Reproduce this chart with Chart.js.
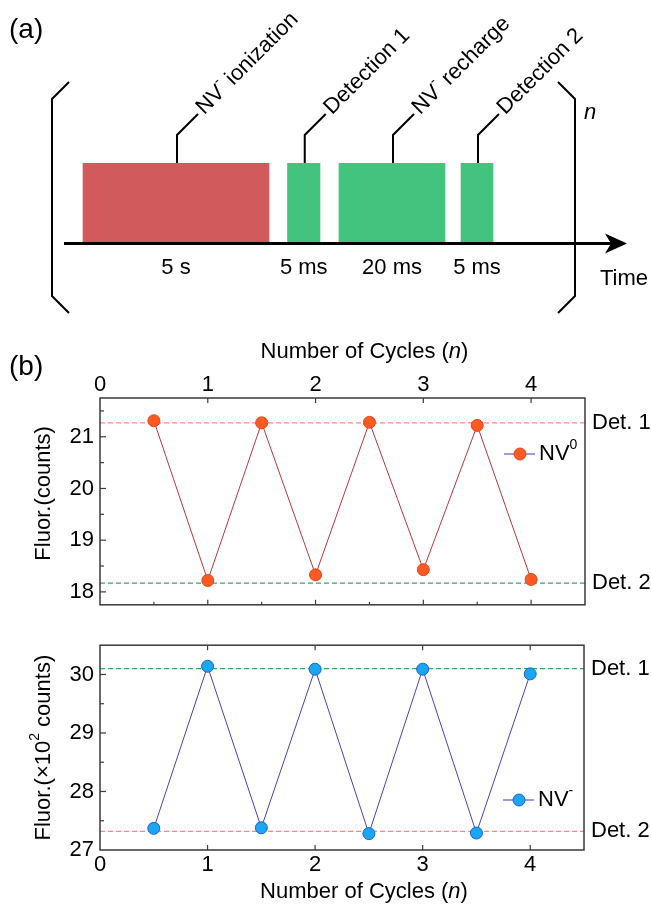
<!DOCTYPE html>
<html>
<head>
<meta charset="utf-8">
<script src="https://cdn.jsdelivr.net/npm/chart.js@4.4.1/dist/chart.umd.min.js"></script>
<style>
  body { margin: 0; background: #fff; }
  #wrap { position: relative; width: 651px; height: 905px; }
  canvas { position: absolute; left: 0; }
</style>
</head>
<body>
<div id="wrap">
  <canvas id="chartSeq" width="651" height="330" style="top:0"></canvas>
  <canvas id="chartNV0" width="651" height="295" style="top:330px"></canvas>
  <canvas id="chartNVm" width="651" height="280" style="top:625px"></canvas>
</div>
<script>
// panel (a): measurement sequence (schematic time units)
const stepNames = ['NV^- ionization', 'Detection 1', 'NV^- recharge', 'Detection 2'];
const stepDurations = ['5 s', '5 ms', '20 ms', '5 ms'];
const stepStart = [1.9, 22.35, 27.5, 39.7];
const stepEnd = [20.5, 25.6, 38.1, 42.9];

// panel (b): fluorescence vs cycle
const cycles = [0.5, 1, 1.5, 2, 2.5, 3, 3.5, 4];
const nv0Counts = [21.31, 18.22, 21.27, 18.33, 21.28, 18.43, 21.22, 18.24];
const nvMinusCounts = [27.37, 30.14, 27.38, 30.09, 27.28, 30.09, 27.29, 30.01];
const detLabels = ['Det. 1', 'Det. 2'];
const nv0DetLevels = [21.27, 18.17];
const nvMinusDetLevels = [30.10, 27.32];
const cycleTicks = [0, 1, 2, 3, 4];
const nv0Ticks = [18, 19, 20, 21];
const nvMinusTicks = [27, 28, 29, 30];

const FONT = '"Liberation Sans", Arial, sans-serif';
Chart.defaults.font.family = FONT;
Chart.defaults.color = '#000';

// draws text where '^' makes the next char a superscript and '*' makes it italic
function richText(ctx, str, x, y, size, align) {
  const parts = [];
  for (let i = 0; i < str.length; i++) {
    const c = str[i];
    if ((c === '^' || c === '*') && i + 1 < str.length) {
      parts.push({t: str[i + 1], kind: c});
      i++;
    } else if (parts.length && !parts[parts.length - 1].kind) {
      parts[parts.length - 1].t += c;
    } else {
      parts.push({t: c});
    }
  }
  const fontFor = p => (p.kind === '*' ? 'italic ' : '') +
    (p.kind === '^' ? Math.round(size * 0.65) : size) + 'px ' + FONT;
  let w = 0;
  parts.forEach(p => { ctx.font = fontFor(p); p.w = ctx.measureText(p.t).width; w += p.w; });
  let cx = align === 'center' ? x - w / 2 : x;
  ctx.textAlign = 'left';
  ctx.textBaseline = 'middle';
  parts.forEach(p => {
    ctx.font = fontFor(p);
    ctx.fillText(p.t, cx, p.kind === '^' ? y - size * 0.42 : y);
    cx += p.w;
  });
}

function seg(ctx, pts) {
  ctx.beginPath();
  ctx.moveTo(pts[0][0], pts[0][1]);
  for (let i = 1; i < pts.length; i++) ctx.lineTo(pts[i][0], pts[i][1]);
  ctx.stroke();
}

const seqDecor = {
  id: 'seqDecor',
  afterDraw(chart) {
    const {ctx, chartArea: a, scales: {x}} = chart;
    ctx.save();
    ctx.strokeStyle = '#000';
    ctx.fillStyle = '#000';
    // time axis with arrow
    const ay = a.bottom + 1.5;
    ctx.lineWidth = 3;
    seg(ctx, [[a.left, ay], [a.right - 12, ay]]);
    ctx.beginPath();
    ctx.moveTo(a.right, ay);
    ctx.lineTo(a.right - 22, ay - 10);
    ctx.lineTo(a.right - 16, ay);
    ctx.lineTo(a.right - 22, ay + 10);
    ctx.closePath();
    ctx.fill();
    // brackets
    ctx.lineWidth = 2;
    seg(ctx, [[69, 82], [52, 99], [52, 296], [69, 313]]);
    seg(ctx, [[558, 82], [575, 99], [575, 296], [558, 313]]);
    // leaders, names and durations
    stepNames.forEach((name, i) => {
      const cx = (x.getPixelForValue(stepStart[i]) + x.getPixelForValue(stepEnd[i])) / 2 + 1;
      ctx.lineWidth = 2;
      seg(ctx, [[cx, a.top], [cx, a.top - 28], [cx + 21, a.top - 49]]);
      ctx.save();
      ctx.translate(cx + 23, a.top - 52);
      ctx.rotate(-Math.PI / 4);
      richText(ctx, name, 0, 0, 22, 'left');
      ctx.restore();
      richText(ctx, stepDurations[i], cx - 1, 268, 22, 'center');
    });
    richText(ctx, '(a)', 9, 30, 28, 'left');
    richText(ctx, '*n', 590, 113, 22, 'center');
    richText(ctx, 'Time', 600, 279, 22, 'left');
    ctx.restore();
  }
};

new Chart(document.getElementById('chartSeq'), {
  type: 'bar',
  data: {
    labels: ['sequence'],
    datasets: stepNames.map((name, i) => ({
      label: name,
      data: [[stepStart[i], stepEnd[i]]],
      backgroundColor: i === 0 ? '#D05A5C' : '#42C47C',
      grouped: false,
      categoryPercentage: 1,
      barPercentage: 1,
    })),
  },
  options: {
    indexAxis: 'y',
    responsive: false,
    animation: false,
    layout: {padding: {left: 64, right: 24, top: 163, bottom: 88}},
    scales: {
      x: {type: 'linear', min: 0, max: 56.3, display: false},
      y: {display: false},
    },
    plugins: {legend: {display: false}, tooltip: {enabled: false}},
  },
  plugins: [seqDecor],
});

function plotDecor(cfg) {
  return {
    id: 'plotDecor',
    afterDraw(chart) {
      const {ctx, chartArea: a, scales: {x, y}} = chart;
      ctx.save();
      ctx.strokeStyle = '#3a3a3a';
      ctx.lineWidth = 1.5;
      ctx.strokeRect(a.left, a.top, a.right - a.left, a.bottom - a.top);
      ctx.lineWidth = 1.2;
      cycleTicks.forEach(v => {
        const px = x.getPixelForValue(v);
        if (px > a.left + 1) {
          seg(ctx, [[px, a.top], [px, a.top + 5]]);
          seg(ctx, [[px, a.bottom], [px, a.bottom - 5]]);
        }
        const pm = x.getPixelForValue(v + 0.5);
        if (cfg.minorBottom && pm < a.right - 1) seg(ctx, [[pm, a.bottom], [pm, a.bottom - 3]]);
      });
      cfg.yTicks.forEach(v => {
        const py = y.getPixelForValue(v);
        if (py < a.bottom - 1) seg(ctx, [[a.left, py], [a.left + 6, py]]);
        const pm = y.getPixelForValue(v + 0.5);
        if (pm > a.top + 1) seg(ctx, [[a.left, pm], [a.left + 4, pm]]);
      });
      ctx.fillStyle = '#000';
      richText(ctx, 'Number of Cycles (*n)', (a.left + a.right) / 2 + 22, cfg.xTitleY, 22, 'center');
      if (cfg.panel) richText(ctx, cfg.panel, 9, 37, 28, 'left');
      ctx.save();
      ctx.translate(44, (a.top + a.bottom) / 2 + cfg.yTitleShift);
      ctx.rotate(-Math.PI / 2);
      richText(ctx, cfg.yTitle, 0, 0, 22, 'center');
      ctx.restore();
      // legend
      const ds = chart.data.datasets[0];
      const ly = cfg.legendY(a);
      ctx.strokeStyle = '#7b7bd8';
      ctx.lineWidth = 1.5;
      seg(ctx, [[a.right - 81, ly], [a.right - 50, ly]]);
      ctx.beginPath();
      ctx.arc(a.right - 65, ly, 6, 0, Math.PI * 2);
      ctx.fillStyle = ds.pointBackgroundColor;
      ctx.fill();
      ctx.strokeStyle = ds.pointBorderColor;
      ctx.lineWidth = 1;
      ctx.stroke();
      ctx.fillStyle = '#000';
      richText(ctx, ds.label, a.right - 46, ly, 22, 'left');
      ctx.restore();
    }
  };
}

function makePlot(id, cfg) {
  const setTicks = arr => scale => { scale.ticks = arr.map(v => ({value: v})); };
  return new Chart(document.getElementById(id), {
    type: 'line',
    data: {
      datasets: [
        {
          label: cfg.label,
          data: cycles.map((c, i) => ({x: c, y: cfg.values[i]})),
          borderColor: cfg.lineColor,
          borderWidth: 1,
          pointRadius: 6,
          pointBackgroundColor: cfg.fill,
          pointBorderColor: cfg.edge,
          pointBorderWidth: 1,
        },
        ...cfg.levels.map((lv, i) => ({
          label: detLabels[i],
          data: [{x: 0, y: lv}, {x: 4.5, y: lv}],
          borderColor: cfg.detColors[i],
          borderWidth: 1.2,
          borderDash: [5, 3],
          pointRadius: 0,
        })),
      ],
    },
    options: {
      responsive: false,
      animation: false,
      layout: {padding: cfg.padding},
      scales: {
        x: {
          type: 'linear', position: cfg.xPos, min: 0, max: 4.5,
          afterBuildTicks: setTicks(cycleTicks),
          afterFit: s => { s.height = cfg.xHeight; },
          grid: {display: false, drawTicks: false},
          border: {display: false},
          ticks: {display: cfg.xLabels, padding: cfg.xPad, font: {size: 22}, color: '#000'},
        },
        y: {
          type: 'linear', position: 'left', min: cfg.range[0], max: cfg.range[1],
          afterBuildTicks: setTicks(cfg.yTicks),
          afterFit: s => { s.width = 100; },
          grid: {display: false, drawTicks: false},
          border: {display: false},
          ticks: {padding: 6, font: {size: 22}, color: '#000'},
        },
        y2: {
          type: 'linear', position: 'right', min: cfg.range[0], max: cfg.range[1],
          afterBuildTicks: setTicks(cfg.levels),
          afterFit: s => { s.width = cfg.rightW; },
          grid: {display: false, drawTicks: false},
          border: {display: false},
          ticks: {padding: 7, font: {size: 22}, color: '#000', callback: (v, i) => detLabels[i]},
        },
      },
      plugins: {legend: {display: false}, tooltip: {enabled: false}},
    },
    plugins: [plotDecor(cfg)],
  });
}

makePlot('chartNV0', {
  label: 'NV^0', values: nv0Counts, levels: nv0DetLevels, yTicks: nv0Ticks,
  range: [17.75, 21.75],
  lineColor: '#b23a3a', fill: '#ff5a22', edge: '#e0441a',
  detColors: ['#ff8585', '#3da070'],
  padding: {top: 0, bottom: 13, left: 0, right: 0},
  xPos: 'top', xHeight: 68, xPad: 0, xLabels: true, rightW: 66,
  minorBottom: true, xTitleY: 22, panel: '(b)',
  yTitle: 'Fluor.(counts)', yTitleShift: -8,
  legendY: a => a.top + 56,
});

makePlot('chartNVm', {
  label: 'NV^-', values: nvMinusCounts, levels: nvMinusDetLevels, yTicks: nvMinusTicks,
  range: [27, 30.5],
  lineColor: '#4646aa', fill: '#1ba6f2', edge: '#1f5fd0',
  detColors: ['#3da070', '#ff8585'],
  padding: {top: 12, bottom: 0, left: 0, right: 0},
  xPos: 'bottom', xHeight: 55, xPad: 2, xLabels: true, rightW: 67,
  minorBottom: false, xTitleY: 267, panel: null,
  yTitle: 'Fluor.(×10^2 counts)', yTitleShift: 0,
  legendY: a => a.bottom - 50,
});
</script>
</body>
</html>
